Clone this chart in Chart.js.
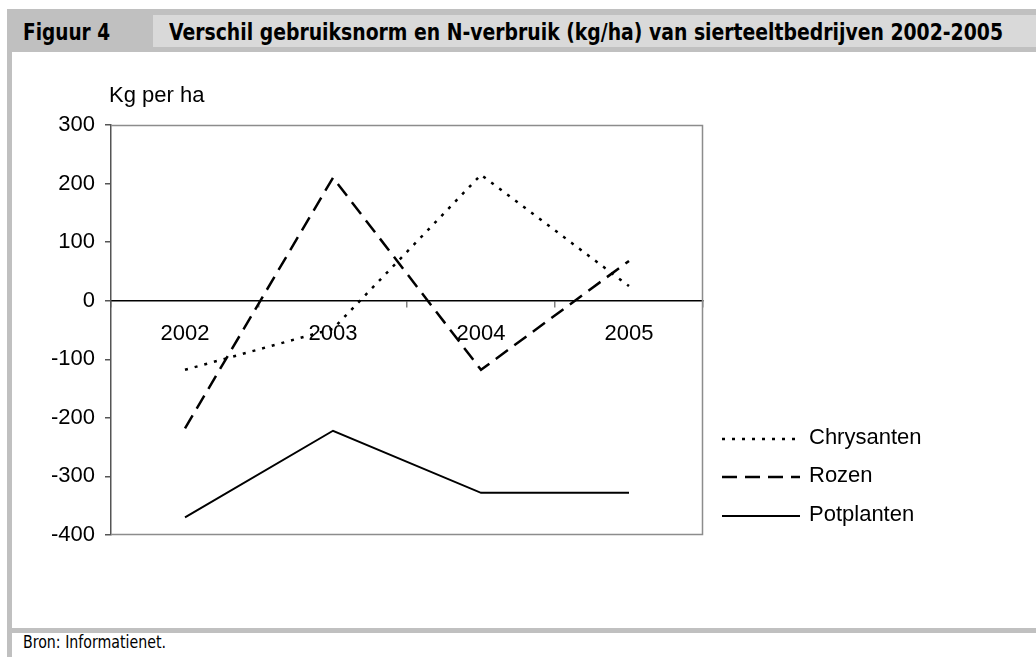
<!DOCTYPE html>
<html>
<head>
<meta charset="utf-8">
<script src="https://cdn.jsdelivr.net/npm/chart.js@4/dist/chart.umd.min.js"></script>
<style>
  body { margin: 0; width: 1036px; height: 657px; background: #fff; position: relative; overflow: hidden; }
  .box { position: absolute; }
  .cond { position: absolute; white-space: nowrap; transform-origin: 0 0; color: #000;
          font-family: "Liberation Sans Narrow", "Arial Narrow", "DejaVu Sans Condensed", "Liberation Sans", sans-serif; }
  #fig, #ttl { font-size: 23px; line-height: 23px; font-weight: bold; top: 21px; }
  #fig { left: 23px; }
  #ttl { left: 169px; }
  #bron { font-size: 17px; line-height: 17px; left: 23px; top: 634px; }
  #chart { position: absolute; left: 12px; top: 52px; }
</style>
</head>
<body>
<div class="box" style="left:7px;top:9px;width:1029px;height:43px;background:#c0c0c0"></div>
<div class="box" style="left:153px;top:15px;width:883px;height:32px;background:#d9d9d9"></div>
<div class="box" style="left:7px;top:52px;width:5px;height:605px;background:#c0c0c0"></div>
<div class="box" style="left:7px;top:628px;width:1029px;height:5px;background:#c0c0c0"></div>
<span class="cond" id="fig" data-w="87">Figuur 4</span>
<span class="cond" id="ttl" data-w="834">Verschil gebruiksnorm en N-verbruik (kg/ha) van sierteeltbedrijven 2002-2005</span>
<span class="cond" id="bron" data-w="143">Bron: Informatienet.</span>
<canvas id="chart" width="1024" height="576"></canvas>
<script>
// squeeze the header texts to the width they have in the original
document.querySelectorAll('.cond').forEach(function (el) {
  var w = el.getBoundingClientRect().width;
  el.style.transform = 'scaleX(' + (parseFloat(el.dataset.w) / w) + ')';
});

var years = ['2002', '2003', '2004', '2005'];
var chrysanten = [-118, -48, 215, 25];
var rozen = [-218, 210, -118, 68];
var potplanten = [-370, -222, -328, -328];
var yTicks = [-400, -300, -200, -100, 0, 100, 200, 300];

var font = { family: '"Liberation Sans", Arial, sans-serif', size: 22 };

// plot frame, y-axis caption and legend on the right
var extras = {
  id: 'extras',
  beforeDatasetsDraw: function (chart) {
    var a = chart.chartArea, ctx = chart.ctx;
    ctx.save();
    ctx.strokeStyle = '#8c8c8c';
    ctx.lineWidth = 1.5;
    ctx.beginPath();
    ctx.moveTo(a.left, a.top + 0.5);
    ctx.lineTo(a.right - 0.5, a.top + 0.5);
    ctx.lineTo(a.right - 0.5, a.bottom - 0.5);
    ctx.lineTo(a.left, a.bottom - 0.5);
    ctx.stroke();
    ctx.restore();
  },
  afterDraw: function (chart) {
    var a = chart.chartArea, ctx = chart.ctx;
    ctx.save();
    ctx.fillStyle = '#000';
    ctx.font = font.size + 'px ' + font.family;
    ctx.textBaseline = 'alphabetic';
    ctx.fillText('Kg per ha', a.left - 2, 50);

    var rows = [387, 425, 464];
    ctx.textBaseline = 'middle';
    chart.data.datasets.forEach(function (ds, i) {
      var y = rows[i];
      ctx.strokeStyle = ds.borderColor;
      ctx.lineWidth = ds.borderWidth;
      ctx.setLineDash(ds.borderDash || []);
      ctx.beginPath();
      ctx.moveTo(710, y);
      ctx.lineTo(788, y);
      ctx.stroke();
      ctx.setLineDash([]);
      ctx.fillText(ds.label, 797, y - 1);
    });
    ctx.restore();
  }
};

var chart = new Chart(document.getElementById('chart'), {
  type: 'line',
  data: {
    labels: years,
    datasets: [
      { label: 'Chrysanten', data: chrysanten, borderColor: '#000', borderWidth: 2.5, borderDash: [3, 7] },
      { label: 'Rozen', data: rozen, borderColor: '#000', borderWidth: 2.5, borderDash: [15, 8] },
      { label: 'Potplanten', data: potplanten, borderColor: '#000', borderWidth: 2 }
    ]
  },
  options: {
    responsive: false,
    animation: false,
    devicePixelRatio: 1,
    layout: { padding: { top: 73, bottom: 93, right: 333, left: 0 } },
    elements: { point: { radius: 0 }, line: { tension: 0, fill: false } },
    plugins: { legend: { display: false }, tooltip: { enabled: false }, title: { display: false } },
    scales: {
      x: {
        type: 'category',
        position: { y: 0 },
        offset: true,
        grid: { offset: true, drawOnChartArea: false, drawTicks: true, tickLength: 6, color: '#808080', lineWidth: 1.5 },
        border: { color: '#000', width: 1.5 },
        ticks: { color: '#000', font: font, padding: 14, maxRotation: 0 }
      },
      y: {
        min: -400,
        max: 300,
        afterFit: function (scale) { scale.width = 99; },
        afterBuildTicks: function (scale) { scale.ticks = yTicks.map(function (v) { return { value: v }; }); },
        grid: { drawOnChartArea: false, drawTicks: true, tickLength: 6, color: '#555', lineWidth: 1.5 },
        border: { color: '#555', width: 1.5 },
        ticks: { color: '#000', font: font, padding: 10 }
      }
    }
  },
  plugins: [extras]
});
</script>
</body>
</html>
